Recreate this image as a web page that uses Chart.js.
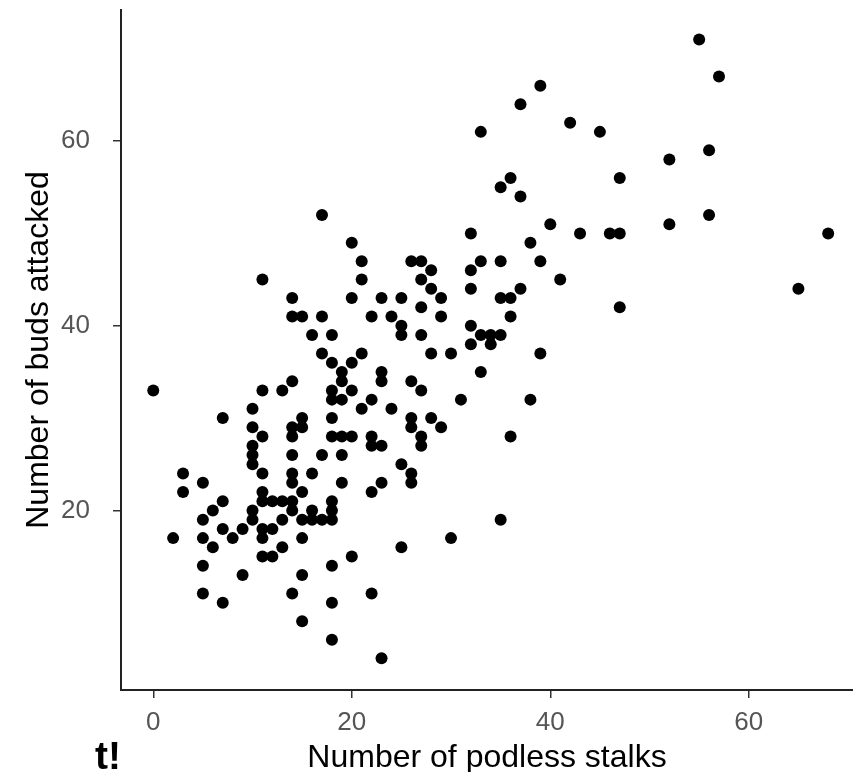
<!DOCTYPE html>
<html>
<head>
<meta charset="utf-8">
<script src="https://cdn.jsdelivr.net/npm/chart.js@4/dist/chart.umd.min.js"></script>
<style>
  body { margin: 0; background: #fff; }
  #wrap { width: 853px; height: 772px; }
</style>
</head>
<body>
<div id="wrap"><canvas id="scatter" width="853" height="772"></canvas></div>
<script>
// Values (x = podless stalks, y = buds attacked)
const podlessStalks = [
  17,20,21,11,21,14,20,14,15,17, 22,16,18,17,21,18,20,19,19,0,
  11,13,14,18,20,18,19,21,10,7, 15,18,10,14,15,11,14,18,19,20,
  22,10,10,14,17,19,10,3,11,14, 16,5,14,19,3,11,15,22,7,11,
  12,13,14,18,6,10,14,16,18,5, 10,13,15,16,17,18,7,9,11,12,
  2,5,8,11,15,6,13,11,12,5, 9,15,18,20,5,7,14,18,22,15,18,
  25,30,23,
  28,30,39,23,23,33,26,27,22,31, 38,24,26,26,28,29,22,23,27,27, 36,25,26,26,23,35,
  36,35,37,40,43,46,47,32,38,39, 33,35,26,27,28,27,28,32,32,41,
  37,23,25,29,35,36,24,27,29,36, 25,25,27,32,33,34,35,32,34,
  33,37,39,42,45,55,57,52,56,47,52,56,68,65,47
];
const budsAttacked = [
  52,49,47,45,45,43,43,41,41,41, 41,39,39,37,37,36,36,35,34,33,
  33,33,34,33,33,32,32,31,31,30, 30,30,29,29,29,28,28,28,28,28,
  28,27,26,26,26,26,25,24,24,24, 24,23,23,23,22,22,22,22,21,21,
  21,21,21,21,20,20,20,20,20,19, 19,19,19,19,19,19,18,18,18,18,
  17,17,17,17,17,16,16,15,15,14, 13,13,14,15,11,10,11,10,11,8,6,
  16,17,4,
  37,37,37,35,34,35,34,33,32,32, 32,31,30,29,30,29,27,27,28,27, 28,25,24,23,23,19,
  56,55,54,51,50,50,50,50,49,47, 47,47,47,47,46,45,44,46,44,45,
  44,43,43,43,43,43,41,42,41,41, 40,39,39,40,39,39,39,38,38,
  61,64,66,62,61,71,67,58,59,56,51,52,50,44,42
];
const xTicks = [0, 20, 40, 60];
const yTicks = [20, 40, 60];

const points = podlessStalks.map((x, i) => ({ x: x, y: budsAttacked[i] }));
const fontFamily = '"Liberation Sans", Arial, Helvetica, sans-serif';

// leftover caption fragment at the bottom left
const captionBit = {
  id: 'captionBit',
  afterDraw(chart) {
    const ctx = chart.ctx;
    ctx.save();
    ctx.font = 'bold 39px ' + fontFamily;
    ctx.fillStyle = '#000';
    ctx.textBaseline = 'alphabetic';
    ctx.fillText('t!', 95, 769);
    ctx.restore();
  }
};

new Chart(document.getElementById('scatter'), {
  type: 'scatter',
  data: {
    datasets: [{
      data: points,
      backgroundColor: '#000',
      borderWidth: 0,
      pointRadius: 6,
      pointHoverRadius: 6
    }]
  },
  options: {
    responsive: false,
    animation: false,
    layout: { autoPadding: false, padding: { top: 10, left: 0, right: 0, bottom: 0 } },
    plugins: { legend: { display: false }, tooltip: { enabled: false } },
    scales: {
      x: {
        type: 'linear',
        min: -3.25,
        max: 70.5,
        afterBuildTicks: s => { s.ticks = xTicks.map(v => ({ value: v })); },
        afterFit: s => { s.height = 82; s.paddingLeft = 0; s.paddingRight = 0; },
        grid: { drawOnChartArea: false, drawTicks: true, tickLength: 8, color: '#333', lineWidth: 1.5 },
        border: { display: true, color: '#222', width: 2 },
        ticks: { color: '#555', font: { family: fontFamily, size: 26 }, padding: 9 },
        title: {
          display: true,
          text: 'Number of podless stalks',
          color: '#000',
          font: { family: fontFamily, size: 32 },
          padding: { top: 0, bottom: -5 }
        }
      },
      y: {
        type: 'linear',
        min: 0.55,
        max: 74.2,
        afterBuildTicks: s => { s.ticks = yTicks.map(v => ({ value: v })); },
        afterFit: s => { s.width = 121; s.paddingTop = 0; s.paddingBottom = 0; },
        grid: { drawOnChartArea: false, drawTicks: true, tickLength: 8, color: '#333', lineWidth: 1.5 },
        border: { display: true, color: '#222', width: 2 },
        ticks: { color: '#555', font: { family: fontFamily, size: 26 }, padding: 23 },
        title: {
          display: true,
          text: 'Number of buds attacked',
          color: '#000',
          font: { family: fontFamily, size: 32 },
          padding: { top: 20, bottom: 0 }
        }
      }
    }
  },
  plugins: [captionBit]
});
</script>
</body>
</html>
